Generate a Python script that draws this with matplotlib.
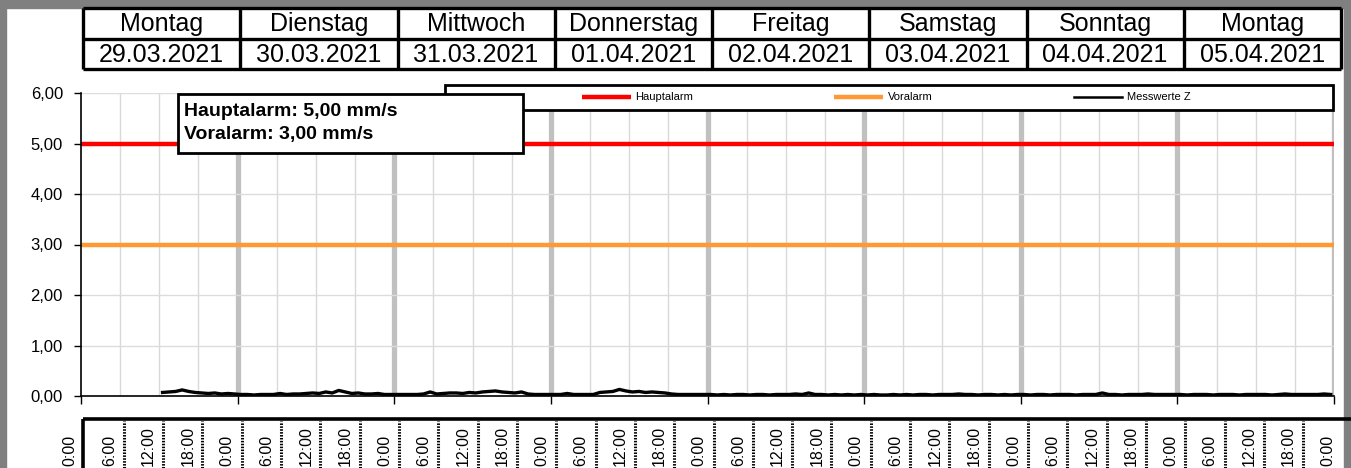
import numpy as np
import matplotlib
matplotlib.use("Agg")
import matplotlib.pyplot as plt
from matplotlib.patches import Rectangle

plt.rcParams['font.family'] = ['Liberation Sans', 'DejaVu Sans']

# =========================
# DATI
# =========================
wochentage = ["Montag", "Dienstag", "Mittwoch", "Donnerstag",
              "Freitag", "Samstag", "Sonntag", "Montag"]
daten = ["29.03.2021", "30.03.2021", "31.03.2021", "01.04.2021",
         "02.04.2021", "03.04.2021", "04.04.2021", "05.04.2021"]
uhrzeiten = ["0:00", "6:00", "12:00", "18:00"] * 8 + ["0:00"]

hauptalarm = 5.0   # mm/s
voralarm = 3.0     # mm/s

nan = np.nan
# Messwerte Z, stuendlich (mm/s), ein Eintrag pro Tag
mess_2903 = [nan] * 12 + [0.07, 0.08, 0.09, 0.12, 0.09, 0.07,
                          0.06, 0.05, 0.06, 0.04, 0.05, 0.04]
mess_3003 = [0.03, 0.03, 0.02, 0.03, 0.03, 0.03, 0.05, 0.03, 0.04, 0.04, 0.05, 0.06,
             0.05, 0.08, 0.06, 0.11, 0.08, 0.05, 0.06, 0.04, 0.04, 0.05, 0.03, 0.03]
mess_3103 = [0.03, 0.03, 0.03, 0.03, 0.04, 0.08, 0.04, 0.05, 0.06, 0.06, 0.05, 0.07,
             0.06, 0.08, 0.09, 0.10, 0.08, 0.07, 0.06, 0.08, 0.04, 0.03, 0.03, 0.03]
mess_0104 = [0.03, 0.03, 0.05, 0.03, 0.03, 0.03, 0.03, 0.07, 0.08, 0.09, 0.13, 0.10,
             0.08, 0.09, 0.07, 0.08, 0.07, 0.06, 0.04, 0.03, 0.03, 0.03, 0.03, 0.03]
mess_0204 = [0.03, 0.02, 0.03, 0.02, 0.03, 0.03, 0.02, 0.03, 0.03, 0.02, 0.03, 0.03,
             0.03, 0.04, 0.03, 0.06, 0.03, 0.03, 0.02, 0.03, 0.02, 0.03, 0.02, 0.03]
mess_0304 = [0.02, 0.03, 0.02, 0.02, 0.03, 0.02, 0.03, 0.02, 0.03, 0.03, 0.02, 0.03,
             0.03, 0.03, 0.04, 0.03, 0.03, 0.02, 0.03, 0.03, 0.02, 0.03, 0.02, 0.03]
mess_0404 = [0.03, 0.02, 0.03, 0.03, 0.02, 0.03, 0.03, 0.03, 0.02, 0.03, 0.03, 0.03,
             0.06, 0.03, 0.03, 0.02, 0.03, 0.03, 0.03, 0.04, 0.03, 0.03, 0.03, 0.03]
mess_0504 = [0.03, 0.02, 0.03, 0.03, 0.03, 0.02, 0.03, 0.03, 0.03, 0.02, 0.03, 0.03,
             0.03, 0.03, 0.02, 0.03, 0.04, 0.03, 0.03, 0.03, 0.03, 0.03, 0.04, 0.03]

messwerte = np.array(mess_2903 + mess_3003 + mess_3103 + mess_0104 +
                     mess_0204 + mess_0304 + mess_0404 + mess_0504)
stunden = np.arange(len(messwerte)) + 0.5
n_stunden = 24 * len(daten)

# =========================
# LAYOUT (pixel)
# =========================
W, H = 1351, 468
fig = plt.figure(figsize=(W / 100, H / 100), dpi=100)
fig.patch.set_facecolor('white')


def fx(px):
    return px / W


def fy(py):
    return 1 - py / H


# cornice grigia
grau = '#808080'
for r in [(0, fy(8), 1, 8 / H), (0, 0, fx(6), 1), (fx(1344), 0, fx(7), 1)]:
    fig.add_artist(Rectangle(r[:2], r[2], r[3], transform=fig.transFigure,
                             color=grau, zorder=0))

# --- tabella giorni in alto ---
ax_top = fig.add_axes([fx(83), fy(69), fx(1341) - fx(83), 61 / H])
ax_top.set_xlim(0, len(daten))
ax_top.set_ylim(0, 2)
ax_top.axis('off')
ax_top.vlines(range(len(daten) + 1), 0, 2, color='black', lw=2.4, clip_on=False)
ax_top.hlines([0, 1, 2], 0, len(daten), color='black', lw=2.4, clip_on=False)
for i, (tag, datum) in enumerate(zip(wochentage, daten)):
    ax_top.text(i + 0.5, 1.47, tag, ha='center', va='center', fontsize=18)
    ax_top.text(i + 0.5, 0.47, datum, ha='center', va='center', fontsize=18)

# --- grafico principale ---
ax = fig.add_axes([fx(81), fy(396), (1334 - 81) / W, (396 - 93) / H])
ax.set_xlim(0, n_stunden)
ax.set_ylim(0, 6)

sechs_h = [h for h in range(6, n_stunden, 6) if h % 24 != 0]
tage_h = list(range(24, n_stunden + 1, 24))
ax.vlines(sechs_h, 0, 6, color='#d9d9d9', lw=1, zorder=1)
ax.vlines(tage_h, 0, 6, color='#c0c0c0', lw=3.8, zorder=1)
ax.hlines(range(1, 7), 0, n_stunden, color='#dcdcdc', lw=1, zorder=1)

l1, = ax.plot([0, n_stunden], [hauptalarm, hauptalarm], color='#ff0000', lw=3.2,
              solid_capstyle='butt', zorder=3, label='Hauptalarm')
l2, = ax.plot([0, n_stunden], [voralarm, voralarm], color='#ff9933', lw=3.2,
              solid_capstyle='butt', zorder=3, label='Voralarm')
l3, = ax.plot(stunden, messwerte, color='black', lw=2.4, zorder=4,
              label='Messwerte Z')

for s in ['top', 'right']:
    ax.spines[s].set_visible(False)
for s in ['left', 'bottom']:
    ax.spines[s].set_color('black')
    ax.spines[s].set_linewidth(1.2)
    ax.spines[s].set_zorder(5)

ax.set_yticks(range(0, 7))
ax.set_yticklabels([f"{v:.2f}".replace('.', ',') for v in range(0, 7)], fontsize=12)
ax.set_xticks([0] + tage_h)
ax.set_xticklabels([])
ax.tick_params(axis='y', length=5, width=1, pad=8, colors='black')
ax.tick_params(axis='x', length=6, width=1, colors='black')

# --- legenda ---
fig.add_artist(Rectangle((fx(445), fy(110)), fx(1333) - fx(445), 25 / H,
                         transform=fig.transFigure, facecolor='white',
                         edgecolor='black', lw=2, zorder=3))
leg = fig.legend(handles=[l1, l2, l3], loc='center left',
                 bbox_to_anchor=(fx(582), fy(97.5)), ncol=3, frameon=False,
                 prop={'family': ['Liberation Sans Narrow', 'Liberation Sans'], 'size': 8},
                 handlelength=4.4, handletextpad=0.4, columnspacing=12.7,
                 borderpad=0, borderaxespad=0)
leg.set_zorder(4)
l3_leg = leg.get_lines()[2]
l3_leg.set_linewidth(1.8)

# --- box soglie ---
fig.add_artist(Rectangle((fx(178), fy(153)), fx(523) - fx(178), 59 / H,
                         transform=fig.transFigure, facecolor='white',
                         edgecolor='black', lw=2, zorder=5))
fig.text(fx(184), fy(112), f"Hauptalarm: {hauptalarm:.2f} mm/s".replace('.', ','),
         fontsize=14, fontweight='bold', va='center', zorder=6)
fig.text(fx(184), fy(135), f"Voralarm: {voralarm:.2f} mm/s".replace('.', ','),
         fontsize=14, fontweight='bold', va='center', zorder=6)

# --- fascia orari in basso ---
ax_bot = fig.add_axes([fx(70), 0, fx(1328) - fx(70), 50 / H])
ax_bot.set_xlim(0, len(uhrzeiten) - 1)
ax_bot.set_ylim(0, 50)
ax_bot.axis('off')
ax_bot.set_zorder(2)
ax_bot.hlines(49, 0.33, 35.0, color='black', lw=2.6, clip_on=False)
ax_bot.vlines(0.33, -1, 49, color='black', lw=2.6, clip_on=False)
sep = [i + 0.37 for i in range(1, len(uhrzeiten) - 1)]
ax_bot.vlines(sep, 0, 47.5, color='black', lw=2.2, linestyles=[(0, (0.5, 0.45))])
for i, t in enumerate(uhrzeiten):
    ax_bot.text(i, 2, t, rotation=90, ha='center', va='bottom', fontsize=11.5,
                clip_on=False)

plt.savefig("out.png", dpi=100)
plt.close()
